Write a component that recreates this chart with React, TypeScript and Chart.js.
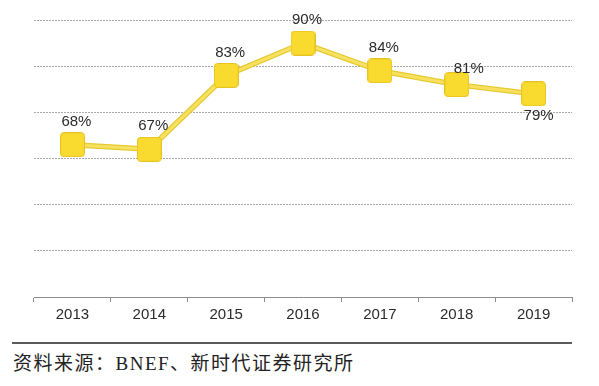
import React, { useEffect, useRef } from "react";
import { Chart, registerables } from "chart.js";

Chart.register(...registerables);

const years = ["2013", "2014", "2015", "2016", "2017", "2018", "2019"];
const ratios = [68, 67, 83, 90, 84, 81, 79];
const labelPlacement = ["above", "above", "above", "above", "above", "above-right", "below"];
const yMin = 35;
const yMax = 95;
const yStep = 10;
const sourceText = "资料来源：BNEF、新时代证券研究所";

function makeMarker(): HTMLCanvasElement {
  const size = 25;
  const c = document.createElement("canvas");
  c.width = size;
  c.height = size;
  const ctx = c.getContext("2d")!;
  const r = 3.5;
  const x = 0.5, y = 0.5, w = size - 1, h = size - 1;
  ctx.beginPath();
  ctx.moveTo(x + r, y);
  ctx.lineTo(x + w - r, y);
  ctx.quadraticCurveTo(x + w, y, x + w, y + r);
  ctx.lineTo(x + w, y + h - r);
  ctx.quadraticCurveTo(x + w, y + h, x + w - r, y + h);
  ctx.lineTo(x + r, y + h);
  ctx.quadraticCurveTo(x, y + h, x, y + h - r);
  ctx.lineTo(x, y + r);
  ctx.quadraticCurveTo(x, y, x + r, y);
  ctx.closePath();
  ctx.fillStyle = "#F9DA2E";
  ctx.fill();
  ctx.strokeStyle = "#E6C224";
  ctx.lineWidth = 1;
  ctx.stroke();
  return c;
}

const labelPlugin = {
  id: "pctLabels",
  afterDatasetsDraw(chart: any) {
    const meta = chart.getDatasetMeta(1);
    const ctx = chart.ctx;
    ctx.save();
    ctx.font = "15px 'Liberation Sans', Arial, sans-serif";
    ctx.fillStyle = "#2b2b2b";
    ctx.textAlign = "center";
    ctx.textBaseline = "middle";
    meta.data.forEach((pt: any, i: number) => {
      const place = labelPlacement[i];
      let dx = 4;
      let dy = -23;
      if (place === "below") { dx = 5; dy = 22; }
      if (place === "above-right") { dx = 12; dy = -16; }
      ctx.fillText(ratios[i] + "%", pt.x + dx, pt.y + dy);
    });
    ctx.restore();
  },
};

export default function App() {
  const ref = useRef<HTMLCanvasElement | null>(null);
  useEffect(() => {
    if (!ref.current) return;
    const marker = makeMarker();
    const chart = new Chart(ref.current, {
      type: "line",
      data: {
        labels: years,
        datasets: [
          {
            data: ratios,
            borderColor: "#E6CA34",
            borderWidth: 5.5,
            pointRadius: 0,
            fill: false,
            tension: 0,
            order: 2,
          },
          {
            data: ratios,
            borderColor: "#F7E160",
            borderWidth: 3,
            pointStyle: marker as any,
            pointRadius: 12,
            fill: false,
            tension: 0,
            order: 1,
          },
        ],
      },
      options: {
        responsive: false,
        animation: false,
        events: [],
        layout: { padding: { left: 34, right: 27, top: 20, bottom: 2 } },
        plugins: {
          legend: { display: false },
          tooltip: { enabled: false },
          title: { display: false },
        },
        scales: {
          x: {
            offset: true,
            grid: {
              offset: true,
              drawOnChartArea: false,
              drawTicks: true,
              tickLength: 5,
              color: "#8c8c8c",
            },
            border: { display: true, color: "#8c8c8c", width: 1 },
            ticks: {
              color: "#2b2b2b",
              font: { family: "'Liberation Sans', Arial, sans-serif", size: 15 },
              padding: 4,
              maxRotation: 0,
            },
          },
          y: {
            min: yMin,
            max: yMax,
            ticks: { display: false, stepSize: yStep },
            border: { display: false, dash: [2, 1] },
            grid: {
              drawTicks: false,
              color: (c: any) => (c.tick && c.tick.value === yMin ? "rgba(0,0,0,0)" : "#a8a8a8"),
              lineWidth: 1,
            },
          },
        },
      },
      plugins: [labelPlugin],
    });
    return () => chart.destroy();
  }, []);

  return (
    <div style={{ position: "fixed", left: 0, top: 0, width: 599, height: 386, background: "#fff" }}>
      <canvas ref={ref} width={599} height={330} style={{ position: "absolute", left: 0, top: 0, width: 599, height: 330 }} />
      <div style={{ position: "absolute", left: 12, top: 342, width: 560, height: 2, background: "#5a5a5a" }} />
      <div
        style={{
          position: "absolute",
          left: 13,
          top: 348,
          fontFamily: "'Liberation Serif', 'DejaVu Serif', 'Noto Sans CJK SC', serif",
          fontSize: 19,
          color: "#222",
          whiteSpace: "nowrap",
          letterSpacing: 1.5,
        }}
      >
        {sourceText}
      </div>
    </div>
  );
}
